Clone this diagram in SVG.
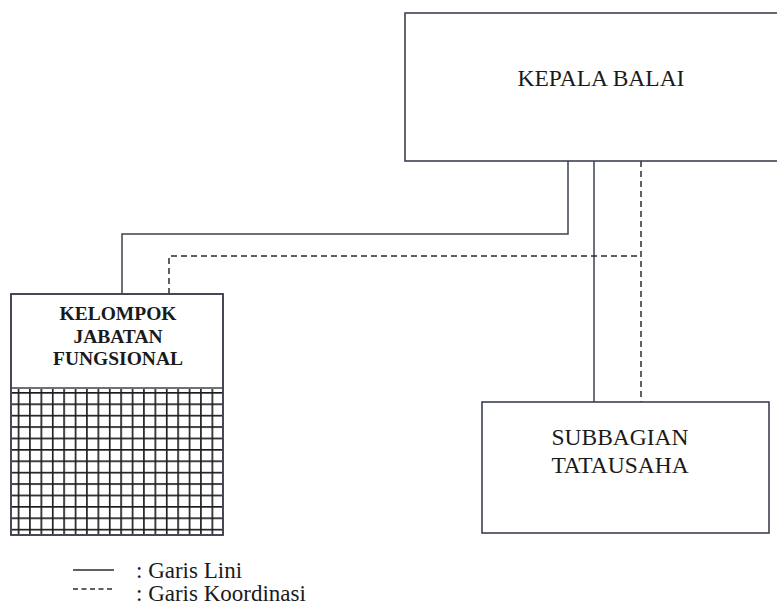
<svg xmlns="http://www.w3.org/2000/svg" width="777" height="613" viewBox="0 0 777 613">
<style>
.box{fill:#fff;stroke:#3d4250;stroke-width:1.6}
.ln{fill:none;stroke:#3d4250;stroke-width:1.5}
.dash{fill:none;stroke:#2a2d33;stroke-width:1.5;stroke-dasharray:6 4}
.t{font-family:"Liberation Serif","Times New Roman",serif;font-size:23.5px;fill:#1a1a1a;text-anchor:middle}
.tb{font-family:"Liberation Serif","Times New Roman",serif;font-size:19.5px;font-weight:bold;fill:#1a1a1a;text-anchor:middle}
.lg{font-family:"Liberation Serif","Times New Roman",serif;font-size:23px;fill:#1a1a1a}
</style>
<defs>
<pattern id="grid" x="17.7" y="392" width="11.4" height="11.4" patternUnits="userSpaceOnUse">
<path d="M0.8 0V11.4M0 0.8H11.4" stroke="#1c1c1c" stroke-width="1.7"/>
</pattern>
</defs>
<rect width="777" height="613" fill="#fff"/>
<g id="connectors">
<polyline class="ln" points="568,161 568,234 122,234 122,294"/>
<line class="ln" x1="594" y1="161" x2="594" y2="402"/>
<polyline class="dash" points="169,294 169,256 641,256"/>
<line class="dash" x1="641" y1="161" x2="641" y2="402"/>
</g>
<g id="kepala-balai">
<rect class="box" x="405" y="13" width="390" height="148"/>
<text class="t" x="601" y="86">KEPALA BALAI</text>
</g>
<g id="subbagian-tatausaha">
<rect class="box" x="482" y="402" width="287" height="131"/>
<text class="t" x="620" y="445">SUBBAGIAN</text>
<text class="t" x="620" y="473">TATAUSAHA</text>
</g>
<g id="kelompok-jabatan-fungsional">
<rect class="box" x="11" y="294" width="212" height="241"/>
<rect x="12" y="389" width="210" height="145" fill="url(#grid)"/>
<line class="ln" x1="11" y1="388" x2="223" y2="388"/>
<rect x="11" y="294" width="212" height="241" fill="none" stroke="#3d4250" stroke-width="1.6"/>
<text class="tb" x="118" y="320">KELOMPOK</text>
<text class="tb" x="118" y="343">JABATAN</text>
<text class="tb" x="118" y="365">FUNGSIONAL</text>
</g>
<g id="legend">
<line x1="73" y1="570" x2="114" y2="570" stroke="#2a2d33" stroke-width="1.5"/>
<text class="lg" x="136" y="578">: Garis Lini</text>
<line x1="73" y1="589" x2="115" y2="589" stroke="#2a2d33" stroke-width="1.3" stroke-dasharray="5 3.5"/>
<text class="lg" x="136" y="601">: Garis Koordinasi</text>
</g>
</svg>
